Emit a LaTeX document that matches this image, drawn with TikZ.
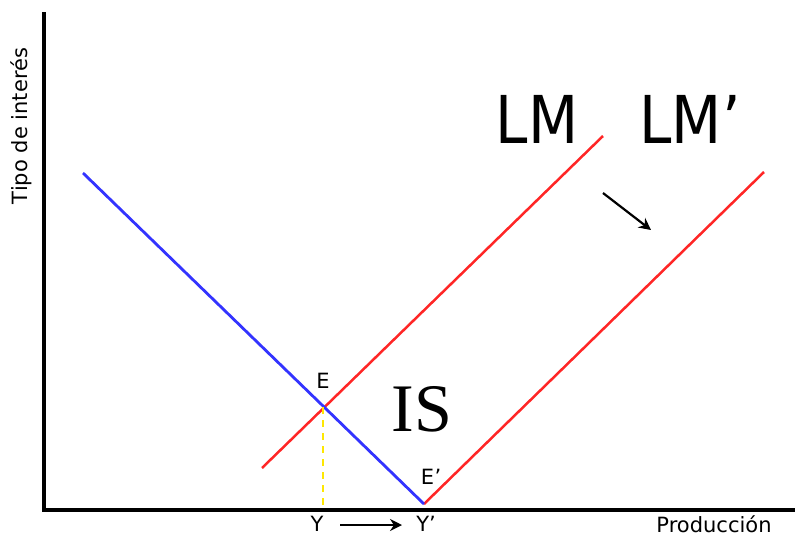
\documentclass[tikz,border=0pt]{standalone}
\usepackage{fontspec}
\setmainfont{DejaVu Sans}
\newfontfamily\serifis{Liberation Serif}
\usetikzlibrary{arrows.meta}
\begin{document}
\begin{tikzpicture}[x=1pt,y=-1pt,
  axis/.style={line width=4pt},
  isline/.style={draw=blue!80!white,line width=2.8pt},
  lmline/.style={draw=red!85!white,line width=2.5pt},
  lbl/.style={font=\fontsize{21}{23}\selectfont,inner sep=0pt},
  big/.style={font=\fontsize{66}{68}\selectfont,inner sep=0pt,xscale=0.88},
  shiftarrow/.style={line width=2.2pt,-{Stealth[length=12pt,width=12pt]}}]
\useasboundingbox (0,0) rectangle (795,536);
% axes
\coordinate (O) at (44,510);
\coordinate (ytop) at (44,12);
\coordinate (xend) at (795,510);
\draw[axis] (ytop) -- (O) -- (xend);
% curves
\coordinate (is1) at (83,173);
\coordinate (is2) at (424,504);
\coordinate (lm1) at (262,468);
\coordinate (lm2) at (603,136);
\coordinate (lmp1) at (424,504);
\coordinate (lmp2) at (764,172);
\draw[lmline] (lm1) -- (lm2);
\draw[lmline] (lmp1) -- (lmp2);
\draw[isline] (is1) -- (is2);
\coordinate (E) at (323,407);
\coordinate (Ybase) at (323,507);
\draw[yellow!90!orange,line width=1.8pt,dash pattern=on 7pt off 6pt] (E) -- (Ybase);
% labels
\node[lbl] (Elbl) at (323,381) {E};
\node[lbl] (Eplbl) at (431,477) {E\kern0.5pt'};
\node[font=\serifis\fontsize{68}{70}\selectfont,inner sep=0pt] (IS) at (422,409) {IS};
\node[big] (LM) at (537,119) {LM};
\node[big] (LMp) at (690,119) {LM'};
\node[lbl] (Y) at (317,524) {Y};
\node[lbl] (Yp) at (426,524) {Y'};
\node[lbl] (prod) at (714,524) {Producción};
\node[lbl,rotate=90] (tipo) at (21,126) {Tipo de interés};
% arrows
\coordinate (a1) at (603,193);
\coordinate (a2) at (651,230);
\draw[shiftarrow] (a1) -- (a2);
\coordinate (b1) at (340,525);
\coordinate (b2) at (402,525);
\draw[shiftarrow,line width=1.8pt] (b1) -- (b2);
\end{tikzpicture}
\end{document}
